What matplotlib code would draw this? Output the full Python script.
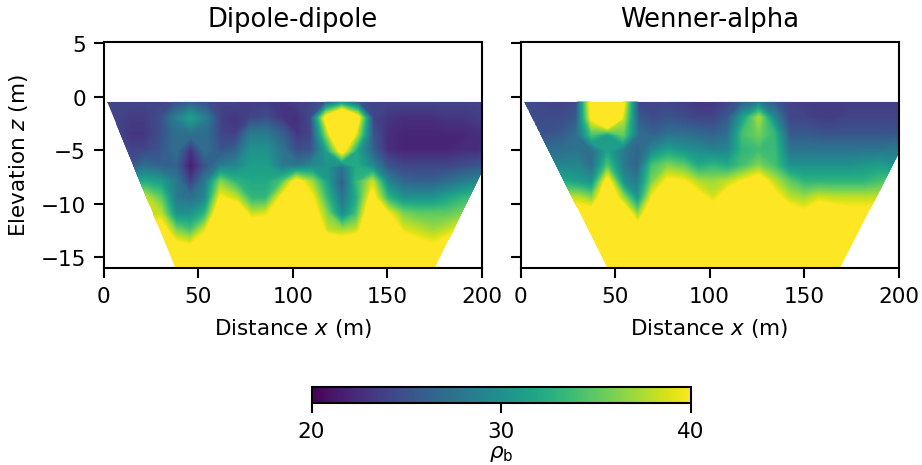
import numpy as np
import matplotlib
matplotlib.use('Agg')
import matplotlib.pyplot as plt
from matplotlib.patches import Polygon

x_nodes = [-2, 6, 14, 22, 30, 38, 46, 54, 62, 70, 78, 86, 94, 102, 110, 118, 126, 134, 142, 150, 158, 166, 174, 182, 190, 198, 206]
z_nodes = [-0.5, -2, -3.5, -5, -6.5, -8, -9.5, -11, -12.5, -14, -16]

# apparent resistivity, one row per z node
dipole = [
    [24, 24, 24, 24, 24, 24.5, 25.5, 24.5, 24, 24, 23.5, 23.5, 23, 23.5, 24, 25, 28, 25, 24, 24, 24, 24, 24, 24, 24, 24, 24],
    [24, 24, 23.5, 23.5, 24.5, 28, 31, 28, 23.5, 23, 24, 24.5, 23, 22.5, 24.5, 41, 50, 41, 24, 23, 22.5, 22.5, 22.5, 23, 23, 23.5, 23.5],
    [24, 24, 23, 23, 24.5, 27, 27, 27, 24, 23.5, 28, 28, 26, 23, 24, 36, 50, 37, 25, 22.5, 22, 22, 22, 22, 22, 22.5, 22.5],
    [25, 25, 24, 24, 25, 27, 22.5, 27, 25, 26, 30, 30, 27.5, 24.5, 25, 31, 41, 31, 26, 22.5, 22, 22, 22, 22, 22.5, 22.5, 23],
    [27, 27, 25, 27, 26, 26, 21, 25, 28, 29, 31, 31, 28, 27.5, 29, 30, 27, 32, 29, 25, 24, 24, 24, 24, 24.5, 25, 25.5],
    [31, 31, 31, 32, 31, 28, 23.5, 28, 36, 33, 32, 32, 34, 41, 37, 31, 25, 33, 38, 29, 26.5, 26, 26, 27, 28, 29, 29],
    [38, 38, 38, 38, 35, 28, 27, 29, 40, 38, 33, 33, 40, 45, 40, 33, 27, 32, 41, 33, 30, 30, 30, 31.5, 33, 34, 34],
    [38, 38, 38, 38, 38, 30, 30, 33, 44, 44, 38, 39, 42, 46, 42, 36, 29, 34, 44, 40, 36, 35, 35, 35, 36, 40, 40],
    [42, 42, 42, 42, 42, 36, 34, 39, 46, 46, 44, 43, 44, 46, 45, 38, 37, 38, 45, 45, 39, 38, 37, 38, 40, 44, 44],
    [44, 44, 44, 44, 44, 41, 40, 42, 46, 46, 46, 45, 45, 46, 46, 44, 43, 44, 46, 46, 44, 41, 40, 42, 45, 46, 46],
    [46, 46, 46, 46, 46, 46, 46, 46, 46, 46, 46, 46, 46, 46, 46, 46, 46, 46, 46, 46, 46, 46, 46, 46, 46, 46, 46],
]

wenner = [
    [25, 24.5, 24, 24, 24.5, 42, 50, 40.5, 24, 24, 24, 23.5, 23, 23, 24, 25.5, 27, 25.5, 24, 23.5, 23.5, 23.5, 23.5, 23.5, 23.5, 23.5, 23.5],
    [25, 24.5, 24.5, 24.5, 25.5, 40, 50, 38, 25.5, 24.5, 25, 24.5, 24, 24, 25.5, 31, 37, 29, 24, 24, 23.5, 23.5, 24, 24, 24, 24, 24],
    [25, 25, 25, 25.5, 27, 34, 31, 35, 27, 26, 27, 27, 26.5, 26, 27, 34, 35.5, 33, 25.5, 25.5, 25, 25, 25, 25, 25, 25, 25],
    [27, 27, 27, 27, 27.5, 27, 31, 28, 26, 29, 31, 30, 29.5, 28.5, 29, 33, 33.5, 33.5, 27.5, 27.5, 27.5, 27.5, 27.5, 27.5, 27.5, 28, 28],
    [29, 29, 29, 29, 29, 27, 34, 28, 26, 34, 36, 35, 32, 33, 32, 34, 36, 34, 30, 30, 30, 30, 30, 30.5, 31, 30, 30],
    [32, 32, 32, 32, 31, 30, 41, 30, 28, 36, 40.5, 40, 37.5, 37, 38, 40, 42, 38, 35, 33, 33, 33, 33, 33, 34, 35, 35],
    [38, 38, 38, 38, 38, 36, 44, 37, 30, 40, 44, 44, 41, 38.5, 42, 46, 46, 41, 38, 37, 38.5, 38, 38, 38, 38, 40, 40],
    [42, 42, 42, 42, 42, 42, 46, 44, 36, 44, 46, 46, 44, 42, 45, 46, 46, 46, 42, 40.5, 43, 42, 41, 41, 42, 44, 44],
    [46, 46, 46, 46, 46, 46, 46, 46, 42, 46, 46, 46, 46, 46, 46, 46, 46, 46, 46, 45, 46, 46, 46, 46, 46, 46, 46],
    [46, 46, 46, 46, 46, 46, 46, 46, 46, 46, 46, 46, 46, 46, 46, 46, 46, 46, 46, 46, 46, 46, 46, 46, 46, 46, 46],
    [46, 46, 46, 46, 46, 46, 46, 46, 46, 46, 46, 46, 46, 46, 46, 46, 46, 46, 46, 46, 46, 46, 46, 46, 46, 46, 46],
]

titles = ['Dipole-dipole', 'Wenner-alpha']
xticks = [0, 50, 100, 150, 200]
yticks = [5, 0, -5, -10, -15]
cticks = [20, 30, 40]

W, H = 922, 466
plt.rcParams['font.size'] = 10.3
plt.rcParams['axes.linewidth'] = 1.0
plt.rcParams['xtick.major.size'] = 5
plt.rcParams['ytick.major.size'] = 5
plt.rcParams['xtick.major.width'] = 1.0
plt.rcParams['ytick.major.width'] = 1.0
plt.rcParams['xtick.major.pad'] = 3.5
plt.rcParams['ytick.major.pad'] = 3.5
fig = plt.figure(figsize=(W / 150, H / 150), dpi=150)


def add_axes_px(left, top, right, bottom):
    return fig.add_axes([left / W, 1 - bottom / H, (right - left) / W, (bottom - top) / H])


ax1 = add_axes_px(103.5, 43, 482, 269)
ax2 = add_axes_px(520.5, 43, 898.5, 269)

# survey outline of each pseudosection
outlines = [
    [(2, -0.5), (218, -0.5), (175, -16), (38, -16)],
    [(2, -0.5), (214, -0.5), (169, -16), (46, -16)],
]

levels = np.linspace(20, 40, 129)
for ax, data, name, outline in zip([ax1, ax2], [dipole, wenner], titles, outlines):
    cs = ax.contourf(x_nodes, z_nodes, np.array(data), levels=levels, cmap='viridis', extend='both')
    cs.set_edgecolor('face')
    cs.set_clip_path(Polygon(outline, transform=ax.transData))
    ax.set_xlim(0, 200)
    ax.set_ylim(-16, 5.1)
    ax.set_xticks(xticks)
    ax.set_yticks(yticks)
    ax.set_xlabel('Distance $x$ (m)', labelpad=5)
    ax.set_title(name, fontsize=12.4, pad=7.5)

ax1.set_ylabel('Elevation $z$ (m)', labelpad=5)
ax2.set_yticklabels([])

cax = add_axes_px(311.5, 388, 690.5, 404)
sm = plt.cm.ScalarMappable(norm=plt.Normalize(20, 40), cmap='viridis')
cb = fig.colorbar(sm, cax=cax, orientation='horizontal', ticks=cticks)
cb.set_label(r'$\rho_\mathrm{b}$', labelpad=1)

fig.savefig('out.png', dpi=150)
